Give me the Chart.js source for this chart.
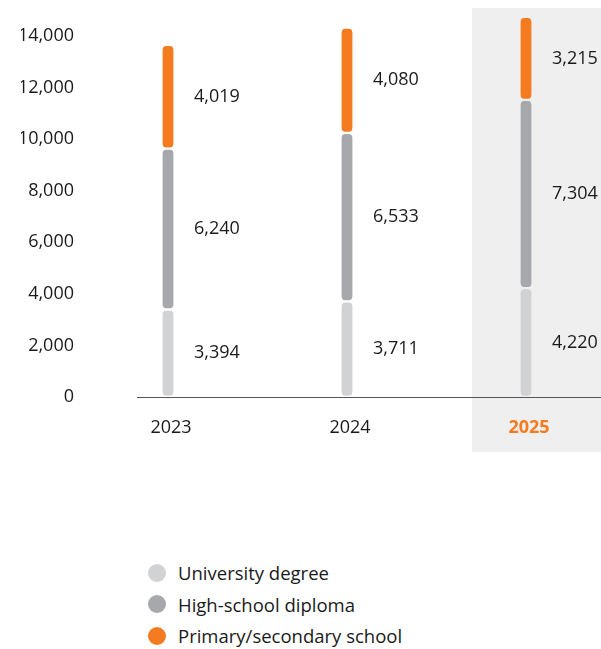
<!DOCTYPE html>
<html>
<head>
<meta charset="utf-8">
<script src="https://cdn.jsdelivr.net/npm/chart.js@4/dist/chart.umd.min.js"></script>
<style>
  body { margin: 0; background: #fff; font-family: "Open Sans", sans-serif; }
  #wrap { position: relative; width: 601px; height: 649px; }
  #box { position: absolute; left: 0; top: 0; width: 601px; height: 470px; }
  #legend { position: absolute; left: 148px; top: 557px; list-style: none; margin: 0; padding: 0; }
  #legend li { display: flex; align-items: center; height: 31.5px; font-size: 18.5px; color: #1a1a1a; }
  #legend span.dot { width: 18px; height: 18px; border-radius: 50%; margin-right: 12px; }
</style>
</head>
<body>
<div id="wrap">
  <div id="box"><canvas id="eduChart"></canvas></div>
  <ul id="legend"></ul>
</div>
<script>
// Employees by education level
const years = ["2023", "2024", "2025"];
const university = [3394, 3711, 4220];
const highSchool = [6240, 6533, 7304];
const primary = [4019, 4080, 3215];
const yTicks = [0, 2000, 4000, 6000, 8000, 10000, 12000, 14000];

const seriesNames = ["University degree", "High-school diploma", "Primary/secondary school"];
const seriesColors = ["#d1d2d4", "#a7a8ab", "#f47b20"];
const highlight = 2; // 2025 column

const fmt = v => v.toLocaleString("en-US");

// gray band behind the highlighted year, axis line, and value labels beside each segment
const extras = {
  id: "extras",
  beforeDraw(chart) {
    const { ctx, scales: { x } } = chart;
    const cx = x.getPixelForValue(highlight);
    ctx.save();
    ctx.fillStyle = "#efefef";
    ctx.fillRect(cx - 54, 8, chart.width - (cx - 54), 444);
    ctx.restore();
  },
  afterDatasetsDraw(chart) {
    const { ctx, chartArea } = chart;
    ctx.save();
    ctx.strokeStyle = "#555";
    ctx.lineWidth = 1;
    ctx.beginPath();
    ctx.moveTo(137, chartArea.bottom + 0.5);
    ctx.lineTo(chart.width, chartArea.bottom + 0.5);
    ctx.stroke();

    ctx.fillStyle = "#1a1a1a";
    ctx.font = "18px 'Open Sans'";
    ctx.textAlign = "left";
    ctx.textBaseline = "middle";
    chart.data.datasets.forEach((ds, i) => {
      chart.getDatasetMeta(i).data.forEach((bar, j) => {
        const mid = (bar.y + bar.base) / 2;
        ctx.fillText(fmt(ds.data[j]), bar.x + 26, mid);
      });
    });
    ctx.restore();
  }
};

const barStyle = {
  barThickness: 11,
  borderRadius: { topLeft: 6, topRight: 6, bottomLeft: 6, bottomRight: 6 },
  borderSkipped: false,
  borderWidth: { top: 1.5, bottom: 1.5, left: 0, right: 0 },
  borderColor: "rgba(0,0,0,0)",
  clip: false
};

const ctx = document.getElementById("eduChart").getContext("2d");
new Chart(ctx, {
  type: "bar",
  data: {
    labels: years,
    datasets: [university, highSchool, primary].map((d, i) => ({
      label: seriesNames[i],
      data: d,
      backgroundColor: seriesColors[i],
      ...barStyle
    }))
  },
  options: {
    responsive: true,
    maintainAspectRatio: false,
    animation: false,
    layout: { padding: { left: 21, right: 75, top: 36, bottom: 34 } },
    plugins: { legend: { display: false }, tooltip: { enabled: false } },
    scales: {
      x: {
        stacked: true,
        offset: false,
        grid: { display: false },
        border: { display: false },
        afterFit: axis => { axis.height = 39; axis.paddingLeft = 0; axis.paddingRight = 0; },
        ticks: {
          padding: 12,
          labelOffset: 3,
          maxRotation: 0,
          minRotation: 0,
          color: c => c.index === highlight ? "#f47b20" : "#1a1a1a",
          font: c => ({ family: "Open Sans", size: 18, weight: c.index === highlight ? "bold" : "normal" })
        }
      },
      y: {
        stacked: true,
        min: 0,
        max: 14000,
        afterBuildTicks: axis => { axis.ticks = yTicks.map(v => ({ value: v })); },
        afterFit: axis => { axis.width = 147; axis.paddingTop = 0; axis.paddingBottom = 0; },
        grid: { display: false },
        border: { display: false },
        ticks: {
          padding: 86,
          color: "#1a1a1a",
          font: { family: "Open Sans", size: 18 },
          callback: v => fmt(v)
        }
      }
    }
  },
  plugins: [extras]
});

// legend under the chart
const legend = document.getElementById("legend");
seriesNames.forEach((name, i) => {
  const li = document.createElement("li");
  li.innerHTML = '<span class="dot" style="background:' + seriesColors[i] + '"></span>' + name;
  legend.appendChild(li);
});
</script>
</body>
</html>
